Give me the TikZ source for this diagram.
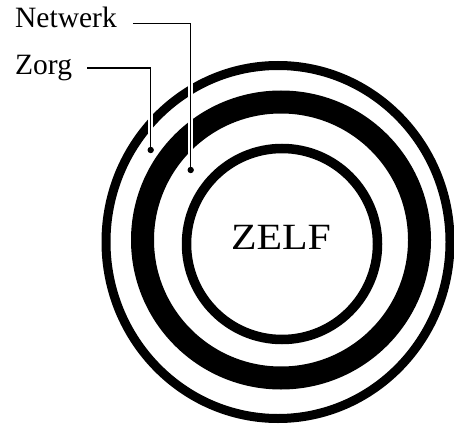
\documentclass[tikz,border=0pt]{standalone}
\usepackage{fontspec}
\usepackage{graphicx}
\setmainfont{Liberation Serif}
\usetikzlibrary{calc}
\begin{document}
\begin{tikzpicture}[x=1pt,y=1pt,
  lbl/.style={inner sep=0pt,font=\fontsize{29.5}{30}\selectfont},
  halo/.style={draw=white,line width=5pt},
  leader/.style={draw=black,line width=1.4pt},
  dotmark/.style={fill=black}]
\useasboundingbox (0,0) rectangle (454,426);
% rings
\draw[line width=9pt] (278,184) ellipse [x radius=172, y radius=176.5];
\draw[line width=23pt] (281,186) ellipse [x radius=138.5, y radius=138];
\draw[line width=9.5pt] (282,182) circle [radius=95.5];
% centre label
\node[inner sep=0pt,anchor=base,font=\fontsize{37}{38}\selectfont] (zelf) at (281,177) {\scalebox{1.13}[1]{ZELF}};
% labels
\node[lbl,anchor=base west] (netwerk) at (15,398) {Netwerk};
\node[lbl,anchor=base west] (zorg) at (15,351) {Zorg};
\coordinate (dn) at (190.7,256);
\coordinate (dz) at (150.7,276);
% leaders with white halo
\draw[halo] ($(netwerk.base east)+(16,4.7)$) -| (dn);
\draw[halo] ($(zorg.base east)+(15,7)$) -| (dz);
\draw[leader] ($(netwerk.base east)+(16,4.7)$) -| (dn);
\draw[leader] ($(zorg.base east)+(15,7)$) -| (dz);
\fill[dotmark] (dn) circle [radius=3.2];
\fill[dotmark] (dz) circle [radius=3.2];
\end{tikzpicture}
\end{document}
